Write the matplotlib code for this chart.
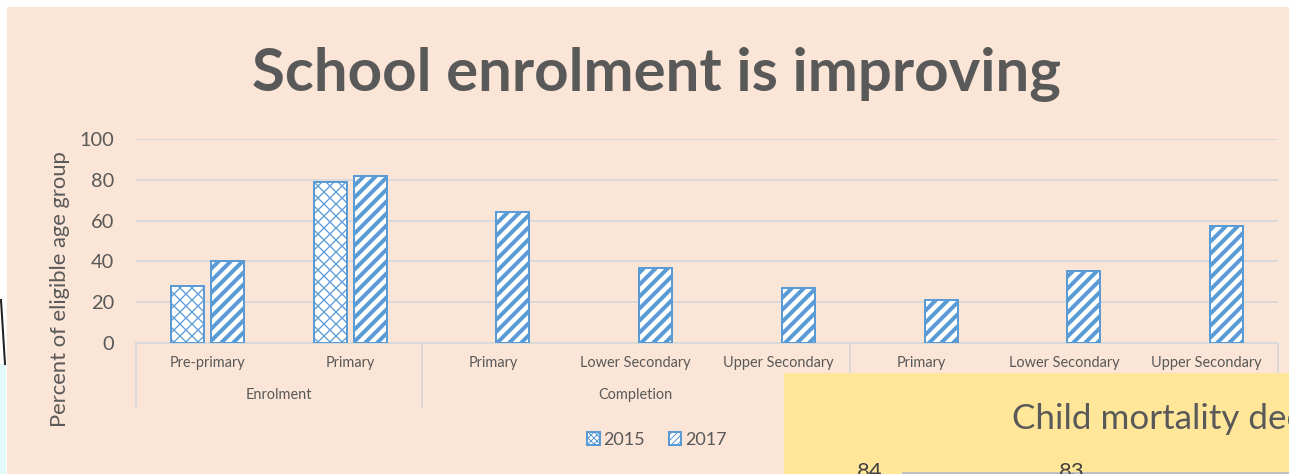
import numpy as np
import matplotlib.pyplot as plt
from matplotlib.patches import Rectangle, Patch
from matplotlib.lines import Line2D
from matplotlib.transforms import blended_transform_factory

# Data
categories = ['Pre-primary', 'Primary', 'Primary', 'Lower Secondary', 'Upper Secondary',
              'Primary', 'Lower Secondary', 'Upper Secondary']
groups = ['Enrolment', 'Completion']
group_spans = [(0, 1), (2, 4)]
group_edges = [-0.5, 1.5, 4.5, 7.5]
vals_2015 = [28, 79, np.nan, np.nan, np.nan, np.nan, np.nan, np.nan]
vals_2017 = [40, 82, 64, 37, 27, 21, 35.5, 57.5]
yticks = [0, 20, 40, 60, 80, 100]
mortality_labels = [84, 83]

BG = '#FBE5D6'
BLUE = '#5B9BD5'
GRID = '#D9D9D9'
TXT = '#595959'

plt.rcParams['font.family'] = ['Lato', 'DejaVu Sans']

DPI = 72
fig = plt.figure(figsize=(1289 / DPI, 474 / DPI), dpi=DPI, facecolor='white')

# peach slide panel
fig.patches.append(Rectangle((7 / 1289, 0), 1, 1 - 7 / 474, transform=fig.transFigure,
                             facecolor=BG, edgecolor='none', zorder=-5))
# bit of a neighbouring shape on the left edge
fig.patches.append(Rectangle((0, 0), 6 / 1289, 110 / 474, transform=fig.transFigure,
                             facecolor='#E4FAFA', edgecolor='none', zorder=-5))
fig.lines.append(Line2D([1 / 1289, 5 / 1289], [174 / 474, 110 / 474], transform=fig.transFigure,
                        color='#222222', lw=2, zorder=-4))

ax = fig.add_axes([136 / 1289, 131 / 474, 1142 / 1289, 204 / 474])
ax.set_facecolor('none')

x = np.arange(len(categories))
w = 0.231
off = 0.14
b15 = ax.bar(x - off, vals_2015, w, facecolor='white', edgecolor=BLUE, hatch='xx',
             linewidth=2, zorder=3)
b17 = ax.bar(x + off, vals_2017, w, facecolor='white', edgecolor=BLUE, hatch='//',
             linewidth=2, zorder=3)
for bars, hw in [(b15, 1.3), (b17, 4.0)]:
    for p in bars:
        try:
            p.set_hatch_linewidth(hw)
        except AttributeError:
            pass

ax.set_xlim(-0.5, 7.5)
ax.set_ylim(0, 100)
ax.set_yticks(yticks)
ax.yaxis.grid(True, color=GRID, lw=2)
ax.set_axisbelow(True)
for s in ['top', 'right', 'left']:
    ax.spines[s].set_visible(False)
ax.spines['bottom'].set_color(GRID)
ax.spines['bottom'].set_linewidth(2)
ax.tick_params(axis='y', length=0, labelsize=20, labelcolor=TXT, pad=22)
ax.tick_params(axis='x', length=0)
ax.set_xticks([])
ax.set_ylabel('Percent of eligible age group', fontsize=22, color=TXT)
ax.yaxis.set_label_coords(-0.0578, 0.265)

# two-level category axis
tr = blended_transform_factory(ax.transData, ax.transAxes)
for e in group_edges:
    ax.plot([e, e], [0, -64 / 204], transform=tr, color=GRID, lw=2, clip_on=False)
for i, c in enumerate(categories):
    ax.text(i, -20 / 204, c, transform=tr, ha='center', va='center', fontsize=14.5, color=TXT)
for g, (a, b) in zip(groups, group_spans):
    ax.text((a + b) / 2, -52 / 204, g, transform=tr, ha='center', va='center',
            fontsize=14.5, color=TXT)

handles = [Patch(facecolor='white', edgecolor=BLUE, hatch='xxxx', linewidth=2),
           Patch(facecolor='white', edgecolor=BLUE, hatch='////', linewidth=2)]
leg = fig.legend(handles=handles, labels=['2015', '2017'], loc='center',
                 bbox_to_anchor=(657 / 1289, 1 - 440 / 474),
                 ncol=2, frameon=False, fontsize=18, labelcolor=TXT, handlelength=0.7,
                 handleheight=0.7, handletextpad=0.2, columnspacing=1.3)

fig.text(656 / 1289, 1 - 75 / 474, 'School enrolment is improving', ha='center', va='center',
         fontsize=60, fontweight='bold', color=TXT)

# overlapping yellow panel from the next slide
box = fig.add_axes([784 / 1289, 0, 505 / 1289, 101 / 474])
box.set_facecolor('#FFE699')
box.set_xticks([])
box.set_yticks([])
for s in box.spines.values():
    s.set_visible(False)
box.set_xlim(0, 505)
box.set_ylim(0, 101)
box.text(228, 55, 'Child mortality declined', ha='left', va='center', fontsize=35,
         color=TXT, clip_on=True)
box.plot([119, 505], [1, 1], color='#BFBFBF', lw=2)
for xi, v in zip([86, 288], mortality_labels):
    box.text(xi, -8, str(v), ha='center', va='bottom', fontsize=22, color='#404040', clip_on=True)

fig.savefig('out.png', dpi=DPI, facecolor='white')
